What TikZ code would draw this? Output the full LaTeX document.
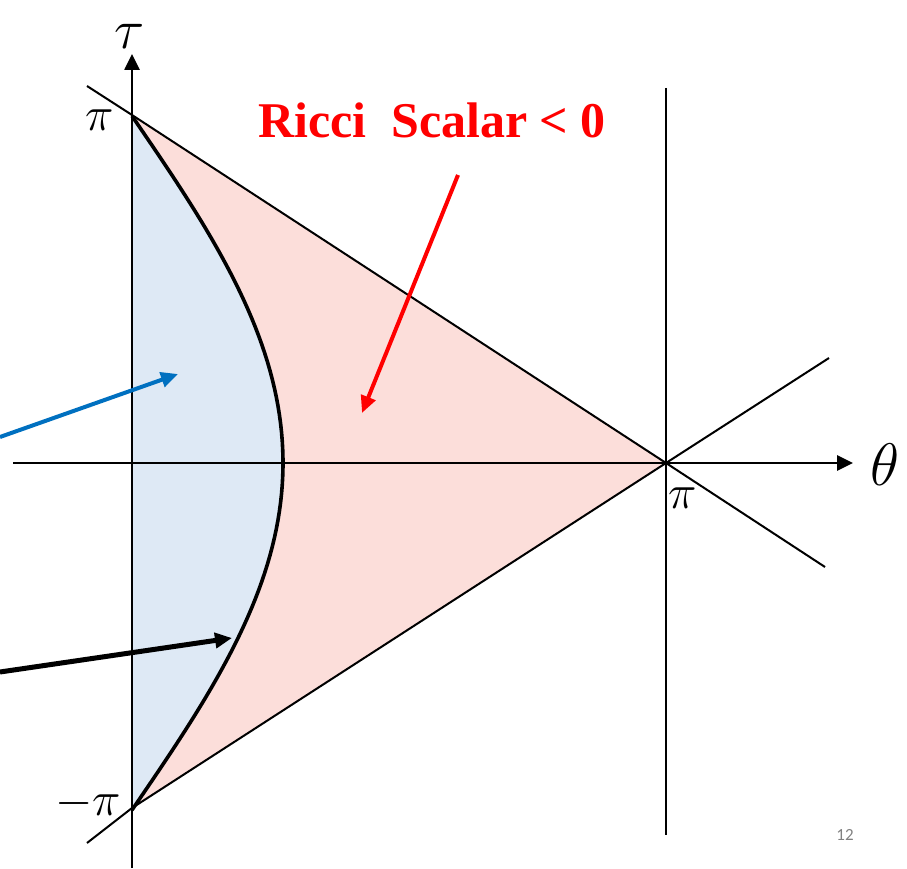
\RequirePackage{fix-cm}
\documentclass[tikz,border=0pt]{standalone}
\usepackage{fontspec}
\setmainfont{Liberation Serif}
\newfontfamily\slidefont{Carlito}
\usetikzlibrary{arrows.meta, positioning, calc}
\definecolor{inblue}{RGB}{222,233,245}
\definecolor{inpink}{RGB}{252,222,218}
\definecolor{arrowblue}{RGB}{0,112,192}

\begin{document}
\begin{tikzpicture}[x=1pt, y=1pt,
    axis/.style={line width=2.6pt, -{Triangle[length=16pt, width=15pt]}},
    thin line/.style={line width=2pt},
    pointer/.style={line width=4.5pt, -{Triangle[length=17pt, width=15pt]}},
    lab/.style={inner sep=0pt, font=\fontsize{48}{50}\selectfont},
    biglab/.style={inner sep=0pt, font=\fontsize{60}{62}\selectfont}
]
\useasboundingbox (0,0) rectangle (907,868);

% key points
\coordinate (o) at (132,405);
\coordinate (ptop) at (132,753);
\coordinate (pbot) at (132,60);
\coordinate (pr) at (666,405);

% regions
\fill[inblue] plot[domain=-180:180, samples=80] ({132+151*cos(\x/2)}, {405+\x/180*347}) -- cycle;
\fill[inpink] (ptop) -- (pr) -- (pbot) -- plot[domain=-180:180, samples=80] ({132+151*cos(\x/2)}, {405+\x/180*347}) -- cycle;

% light-cone lines
\coordinate (ua) at (87,782);
\coordinate (ub) at (825,301);
\coordinate (la) at (87,25);
\coordinate (lb) at (829,510);
\coordinate (va) at (666,780);
\coordinate (vb) at (666,33);
\draw[thin line] (ua) -- (ptop) -- (pr) -- (ub);
\draw[thin line] (la) -- (pbot) -- (pr) -- (lb);
\draw[thin line] (va) -- (vb);

% boundary curve
\draw[line width=3.6pt] plot[domain=-180:180, samples=80] ({132+151*cos(\x/2)}, {405+\x/180*347});

% axes
\coordinate (tb) at (132,0);
\coordinate (tt) at (132,814);
\coordinate (hl) at (13,405);
\coordinate (hr) at (853,405);
\draw[axis] (tb) -- (tt);
\draw[axis] (hl) -- (hr);
\node[biglab, font=\fontsize{56}{58}\selectfont] (tau) at (130,832) {$\tau$};
\node[biglab] (theta) at (885,403) {$\theta$};
\node[lab] (pitop) at (100,748) {$\pi$};
\node[lab] (pibot) at (88,65) {$-\pi$};
\node[lab] (piright) at (683,370) {$\pi$};

% annotations
\node[text=red, inner sep=0pt, font=\fontsize{50}{52}\selectfont\bfseries] (ricci) at (432,748) {Ricci\ \ Scalar < 0};
\coordinate (rt) at (458,693);
\coordinate (rh) at (362,455);
\draw[pointer, red, line width=4pt] (rt) -- (rh);
\coordinate (bt) at (0,431);
\coordinate (bh) at (178,494);
\draw[pointer, arrowblue, line width=4pt] (bt) -- (bh);
\coordinate (kt) at (0,196);
\coordinate (kh) at (232,230);
\draw[pointer, line width=5pt] (kt) -- (kh);

\node[text=gray, inner sep=0pt, font=\slidefont\fontsize{17}{18}\selectfont] (page) at (845,33) {12};
\end{tikzpicture}
\end{document}
